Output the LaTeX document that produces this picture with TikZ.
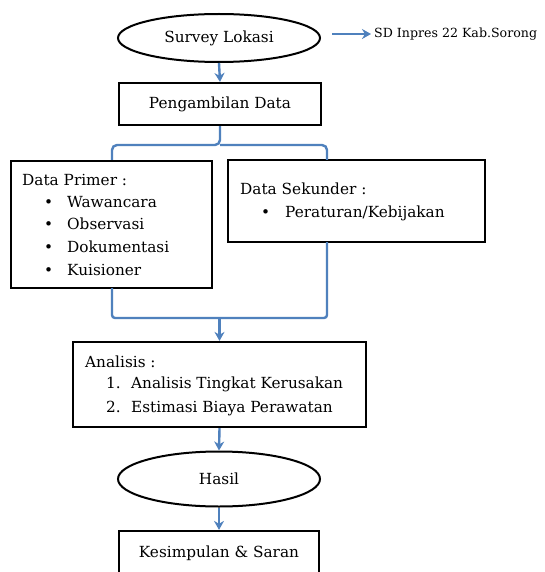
\documentclass[tikz,border=0pt]{standalone}
\usepackage{fontspec}
\setmainfont{DejaVu Serif}
\usetikzlibrary{shapes.geometric,arrows.meta}
\definecolor{wblue}{RGB}{79,129,189}
\tikzset{
  box/.style={draw=black,line width=2.2pt,inner sep=0pt,fill=white},
  oval/.style={draw=black,line width=2pt,ellipse,inner sep=0pt,fill=white},
  txt/.style={inner sep=0pt,font=\fontsize{15.3}{18}\selectfont},
  lt/.style={inner sep=0pt,anchor=base west,font=\fontsize{15.3}{18}\selectfont},
  flow/.style={draw=wblue,line width=2.4pt,-{Stealth[length=9pt,width=10pt]}},
  brace/.style={draw=wblue,line width=2.4pt,rounded corners=5pt},
}
\begin{document}
\begin{tikzpicture}[x=1pt,y=-1pt]
\clip (0,0) rectangle (544,572);
\fill[white] (0,0) rectangle (544,572);
% top
\node[oval,minimum width=202pt,minimum height=48pt] (survey) at (219,38) {};
\node[txt] (surveyt) at (219,38) {Survey Lokasi};
\coordinate (sdstart) at (332,34);
\node[inner sep=0pt,anchor=west,font=\fontsize{12.6}{15}\selectfont] (sd) at (374,34) {SD Inpres 22 Kab.Sorong};
\draw[flow,shorten >=3pt] (sdstart) -- (sd.west);
\node[box,minimum width=202pt,minimum height=42pt] (peng) at (220,104) {};
\node[txt] (pengt) at (220,104) {Pengambilan Data};
\draw[flow] (survey.south) -- (peng.north);
% data boxes
\node[box,minimum width=201pt,minimum height=127pt] (primer) at (111.5,224.5) {};
\node[box,minimum width=257pt,minimum height=82pt] (sek) at (356.5,201) {};
\coordinate (bl) at (112,160);
\coordinate (br) at (327,160);
\draw[brace] (peng.south) -- (220,145) -- (112,145) -- (bl);
\draw[brace] (220,145) -- (327,145) -- (br);
\node[lt] (dp) at (22,185) {Data Primer :};
\foreach \y/\t/\n in {207/Wawancara/a,229/Observasi/b,252/Dokumentasi/c,275/Kuisioner/d}{
  \node[lt] (b\n) at (44,\y) {•};
  \node[lt] (i\n) at (67,\y) {\t};
}
\node[lt] (ds) at (240,194) {Data Sekunder :};
\node[lt] (bs) at (261,217) {•};
\node[lt] (is) at (285,217) {Peraturan/Kebijakan};
% analysis
\node[box,minimum width=293pt,minimum height=85pt] (ana) at (219.5,384.5) {};
\coordinate (mid) at (219.5,318);
\draw[brace,rounded corners=3pt] (112,288) -- (112,318) -- (327,318) -- (327,242);
\draw[flow] (mid) -- (ana.north);
\node[lt] (at) at (85,367) {Analisis :};
\node[lt] (n1) at (106,388) {1.};
\node[lt] (a1) at (131,388) {Analisis Tingkat Kerusakan};
\node[lt] (n2) at (106,412) {2.};
\node[lt] (a2) at (131,412) {Estimasi Biaya Perawatan};
\node[oval,minimum width=202pt,minimum height=55pt] (hasil) at (219,479) {};
\node[txt] (hasilt) at (219,479) {Hasil};
\draw[flow] (ana.south) -- (hasil.north);
\node[box,minimum width=200pt,minimum height=70pt] (kes) at (219,566) {};
\node[txt] (kest) at (219,553) {Kesimpulan \& Saran};
\draw[flow] (hasil.south) -- (kes.north);
\end{tikzpicture}
\end{document}
